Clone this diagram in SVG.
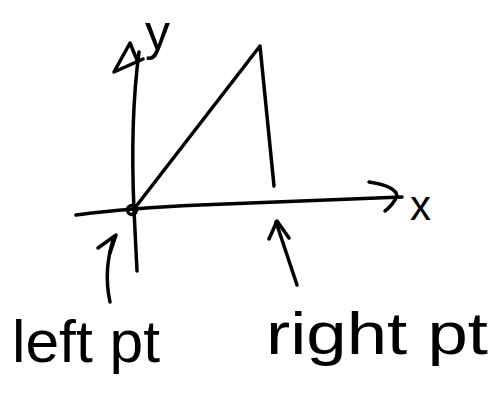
<svg xmlns="http://www.w3.org/2000/svg" width="492" height="399" viewBox="0 0 492 399">
<style>
.ink{fill:none;stroke:#000;stroke-width:3.5;stroke-linecap:round;stroke-linejoin:round}
.lbl{font-family:"Liberation Sans","DejaVu Sans",sans-serif;fill:#000}
</style>
<rect width="492" height="399" fill="#fff"/>
<g id="axes">
  <path class="ink" d="M137,271 L134,210 Q130,120 139,52"/>
  <path class="ink" d="M114,72 L130,43 L137,60 M114,72 L143,59"/>
  <path class="ink" d="M76,215 Q130,208 200,205 Q300,201 402,197"/>
  <path class="ink" d="M369,182 Q396,186 397,196 Q393,205 385,211"/>
</g>
<g id="triangle">
  <path class="ink" d="M134,209 L260,46 L274,186"/>
  <circle class="ink" cx="132" cy="210" r="4.5"/>
</g>
<g id="connectors">
  <path class="ink" d="M110,302 Q103,270 114,237"/>
  <path class="ink" d="M98,248 L116,235 L110,253"/>
  <path class="ink" d="M297,285 L276,222"/>
  <path class="ink" d="M269,239 L277,221 L289,238"/>
</g>
<g id="labels">
  <text class="lbl" x="145" y="50" font-size="50">y</text>
  <text class="lbl" x="410" y="220" font-size="42">x</text>
  <text class="lbl" x="12" y="362" font-size="60" textLength="148" lengthAdjust="spacingAndGlyphs">left pt</text>
  <text class="lbl" x="266" y="354" font-size="60" textLength="222" lengthAdjust="spacingAndGlyphs">right pt</text>
</g>
</svg>
